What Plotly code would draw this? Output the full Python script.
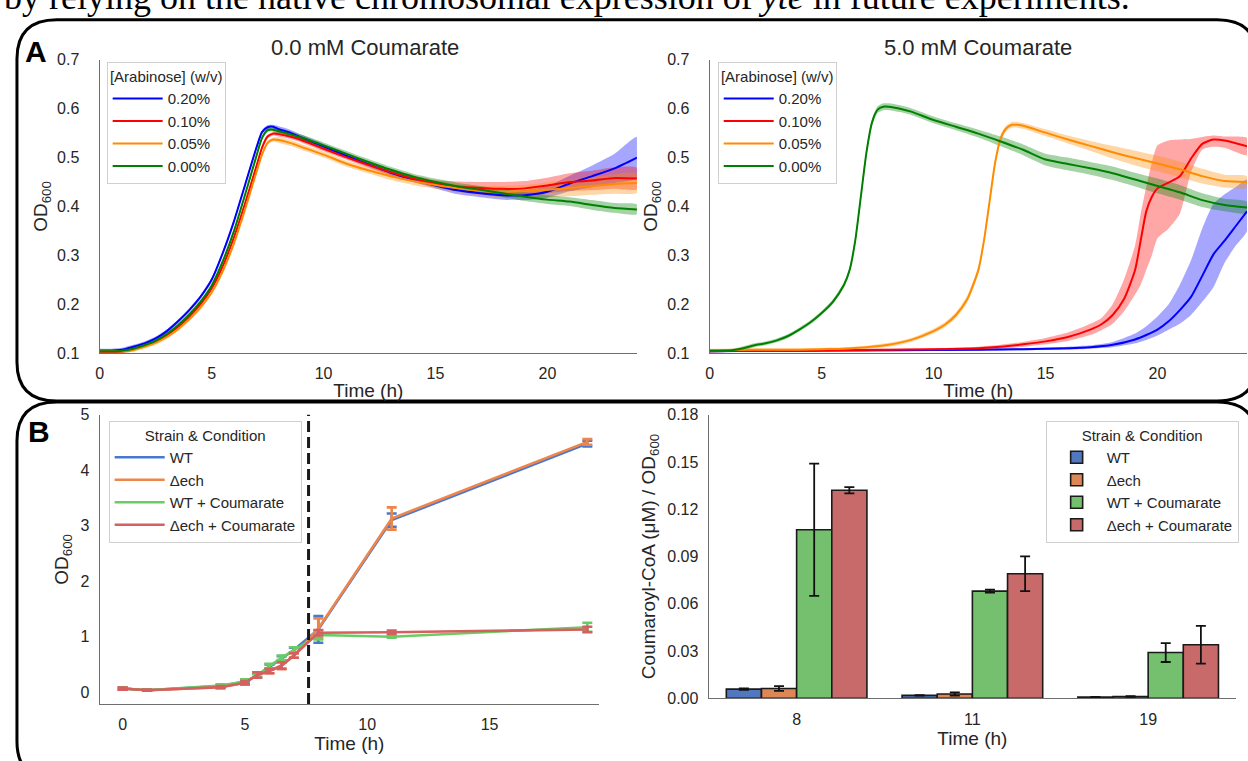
import plotly.graph_objects as go

W, H = 1248, 761

# ---------------- Panel A data (OD600 time courses) ----------------
ARAB_LABELS = ["0.20%", "0.10%", "0.05%", "0.00%"]
ARAB_COLORS = ["#0000ff", "#ff0000", "#ff8c00", "#008000"]
ARAB_FILLS = ["rgba(0,0,255,0.35)", "rgba(255,0,0,0.35)", "rgba(255,140,0,0.35)", "rgba(0,128,0,0.35)"]

# 0.0 mM coumarate
T_A0 = [0, 0.5, 1, 1.5, 2, 2.5, 3, 3.5, 4, 4.5, 5, 5.5, 6, 6.5, 7, 7.25, 7.5, 7.75, 8, 8.5, 9,
        10, 11, 12, 13, 14, 15, 16, 17, 18, 19, 20, 21, 22, 23, 24]
A0_ara020 = [0.105, 0.105, 0.107, 0.113, 0.120, 0.130, 0.145, 0.165, 0.188, 0.215, 0.250, 0.305, 0.370,
             0.445, 0.520, 0.552, 0.562, 0.563, 0.558, 0.551, 0.541, 0.523, 0.504, 0.486, 0.469, 0.455,
             0.443, 0.433, 0.427, 0.423, 0.423, 0.430, 0.447, 0.462, 0.478, 0.500]
A0_ara020_sd = [0.004] * 18 + [0.006, 0.006, 0.006, 0.005, 0.005, 0.005, 0.005, 0.005,
                               0.006, 0.008, 0.008, 0.009, 0.010, 0.012, 0.016, 0.022, 0.030, 0.042]
A0_ara010 = [0.103, 0.103, 0.104, 0.108, 0.115, 0.124, 0.137, 0.154, 0.175, 0.200, 0.232, 0.278, 0.337,
             0.407, 0.482, 0.520, 0.543, 0.549, 0.548, 0.543, 0.536, 0.518, 0.501, 0.485, 0.470, 0.457,
             0.447, 0.441, 0.438, 0.436, 0.437, 0.443, 0.450, 0.453, 0.458, 0.457]
A0_ara010_sd = [0.004] * 18 + [0.005, 0.005, 0.005, 0.005, 0.005, 0.006, 0.007, 0.007,
                               0.007, 0.010, 0.012, 0.014, 0.015, 0.016, 0.018, 0.020, 0.022, 0.022]
A0_ara005 = [0.104, 0.104, 0.104, 0.107, 0.113, 0.121, 0.133, 0.149, 0.169, 0.193, 0.224, 0.268, 0.325,
             0.395, 0.470, 0.506, 0.530, 0.537, 0.536, 0.530, 0.522, 0.506, 0.488, 0.474, 0.462, 0.452,
             0.444, 0.437, 0.432, 0.430, 0.431, 0.434, 0.438, 0.442, 0.446, 0.448]
A0_ara005_sd = [0.004] * 18 + [0.006, 0.006, 0.006, 0.006, 0.006, 0.006, 0.008, 0.008,
                               0.008, 0.008, 0.010, 0.012, 0.013, 0.015, 0.017, 0.018, 0.020, 0.020]
A0_ara000 = [0.104, 0.104, 0.105, 0.109, 0.116, 0.125, 0.139, 0.157, 0.179, 0.205, 0.238, 0.288, 0.350,
             0.425, 0.503, 0.540, 0.556, 0.557, 0.554, 0.548, 0.541, 0.525, 0.508, 0.491, 0.475, 0.461,
             0.450, 0.441, 0.434, 0.427, 0.420, 0.414, 0.410, 0.403, 0.397, 0.394]
A0_ara000_sd = [0.004] * 18 + [0.006, 0.006, 0.006, 0.006, 0.006, 0.006, 0.006, 0.006,
                               0.007, 0.007, 0.008, 0.008, 0.009, 0.009, 0.009, 0.010, 0.010, 0.010]

# 5.0 mM coumarate
T_A5_ara000 = [0, 1, 1.5, 2, 2.5, 3, 3.5, 4, 4.5, 5, 5.5, 6, 6.25, 6.5, 6.75, 7, 7.25, 7.5, 7.75, 8, 8.5,
               9, 10, 11, 12, 13, 14, 15, 16, 17, 18, 19, 20, 21, 22, 23, 24]
A5_ara000 = [0.105, 0.106, 0.110, 0.116, 0.120, 0.126, 0.135, 0.148, 0.163, 0.182, 0.205, 0.240, 0.270,
             0.330, 0.420, 0.510, 0.572, 0.598, 0.604, 0.604, 0.600, 0.594, 0.577, 0.563, 0.549, 0.533,
             0.516, 0.496, 0.487, 0.478, 0.468, 0.455, 0.442, 0.429, 0.413, 0.403, 0.398]
A5_ara000_sd = [0.003, 0.003, 0.004, 0.004, 0.004, 0.004, 0.004, 0.004, 0.004, 0.004, 0.005, 0.005, 0.006,
                0.007, 0.008, 0.008, 0.007, 0.007, 0.007, 0.007, 0.007, 0.007, 0.007, 0.007, 0.008, 0.010,
                0.011, 0.012, 0.013, 0.013, 0.014, 0.014, 0.015, 0.015, 0.014, 0.013, 0.012]

T_A5_ara005 = [0, 2, 4, 5, 6, 7, 8, 9, 10, 10.5, 11, 11.5, 12, 12.25, 12.5, 12.75, 13, 13.25, 13.5,
               13.75, 14, 15, 16, 17, 18, 19, 20, 21, 22, 23, 24]
A5_ara005 = [0.106, 0.107, 0.107, 0.108, 0.109, 0.112, 0.117, 0.127, 0.145, 0.158, 0.178, 0.210, 0.270,
             0.330, 0.410, 0.490, 0.540, 0.560, 0.567, 0.567, 0.565, 0.551, 0.537, 0.524, 0.511, 0.499,
             0.488, 0.476, 0.462, 0.452, 0.450]
A5_ara005_sd = [0.003, 0.003, 0.003, 0.003, 0.003, 0.003, 0.004, 0.004, 0.005, 0.005, 0.006, 0.007, 0.008,
                0.008, 0.008, 0.008, 0.007, 0.006, 0.006, 0.006, 0.006, 0.007, 0.008, 0.010, 0.013, 0.015,
                0.016, 0.016, 0.015, 0.013, 0.012]

T_A5_ara010 = [0, 4, 8, 10, 12, 13, 14, 15, 16, 17, 17.5, 18, 18.5, 19, 19.25, 19.5, 19.75, 20, 20.5,
               21, 21.5, 22, 22.5, 23, 24]
A5_ara010 = [0.104, 0.106, 0.107, 0.108, 0.110, 0.113, 0.118, 0.124, 0.133, 0.148, 0.159, 0.178, 0.210,
             0.270, 0.330, 0.390, 0.420, 0.437, 0.449, 0.462, 0.498, 0.528, 0.537, 0.535, 0.523]
A5_ara010_hi = [0.106, 0.108, 0.109, 0.110, 0.113, 0.117, 0.123, 0.131, 0.142, 0.160, 0.172, 0.200, 0.250,
                0.320, 0.385, 0.440, 0.490, 0.525, 0.535, 0.537, 0.538, 0.542, 0.545, 0.543, 0.540]
A5_ara010_lo = [0.102, 0.104, 0.105, 0.106, 0.107, 0.109, 0.113, 0.118, 0.125, 0.137, 0.147, 0.160, 0.185,
                0.220, 0.240, 0.270, 0.300, 0.335, 0.355, 0.385, 0.470, 0.516, 0.522, 0.520, 0.505]

T_A5_ara020 = [0, 4, 8, 12, 14, 16, 17, 18, 19, 19.5, 20, 20.5, 21, 21.5, 22, 22.5, 23, 23.5, 24]
A5_ara020 = [0.104, 0.105, 0.106, 0.107, 0.108, 0.110, 0.112, 0.117, 0.128, 0.137, 0.148, 0.165, 0.188,
             0.215, 0.258, 0.302, 0.330, 0.360, 0.390]
A5_ara020_hi = [0.106, 0.107, 0.108, 0.109, 0.110, 0.113, 0.116, 0.123, 0.140, 0.155, 0.175, 0.200, 0.240,
                0.290, 0.355, 0.405, 0.425, 0.440, 0.455]
A5_ara020_lo = [0.102, 0.103, 0.104, 0.105, 0.106, 0.107, 0.109, 0.112, 0.120, 0.127, 0.136, 0.148, 0.160,
                0.178, 0.205, 0.235, 0.285, 0.320, 0.350]

# ---------------- Panel B data ----------------
STRAINS = ["WT", "Δech", "WT + Coumarate", "Δech + Coumarate"]
LINE_COLORS = ["#4878d0", "#ee854a", "#6acc64", "#d65f5f"]
BAR_COLORS = ["#5177be", "#dd8656", "#74c06f", "#c96a6a"]

T_B = [0, 1, 4, 5, 5.5, 6, 6.5, 7, 8, 11, 19]
OD_WT = [0.065, 0.035, 0.11, 0.19, 0.30, 0.46, 0.61, 0.76, 1.13, 3.10, 4.48]
OD_WT_err = [0.02, 0.01, 0.02, 0.03, 0.03, 0.04, 0.04, 0.04, 0.24, 0.12, 0.05]
OD_ech = [0.065, 0.035, 0.09, 0.17, 0.31, 0.38, 0.48, 0.66, 1.15, 3.13, 4.51]
OD_ech_err = [0.02, 0.01, 0.02, 0.03, 0.05, 0.04, 0.06, 0.04, 0.18, 0.20, 0.05]
OD_WT_C = [0.065, 0.035, 0.12, 0.19, 0.30, 0.47, 0.62, 0.76, 1.03, 1.00, 1.17]
OD_WT_C_err = [0.02, 0.01, 0.02, 0.04, 0.03, 0.04, 0.04, 0.05, 0.08, 0.02, 0.08]
OD_ech_C = [0.065, 0.035, 0.09, 0.17, 0.31, 0.38, 0.48, 0.66, 1.07, 1.08, 1.13]
OD_ech_C_err = [0.02, 0.01, 0.02, 0.03, 0.05, 0.04, 0.06, 0.04, 0.05, 0.03, 0.05]
COUMARATE_ADDED_H = 7.6

BAR_TIMES = ["8", "11", "19"]
COA_WT = [0.0058, 0.0018, 0.0008]
COA_WT_err = [0.0005, 0.0002, 0.0001]
COA_ech = [0.0062, 0.0027, 0.0011]
COA_ech_err = [0.0015, 0.0010, 0.0002]
COA_WT_C = [0.107, 0.068, 0.029]
COA_WT_C_err = [0.042, 0.001, 0.006]
COA_ech_C = [0.132, 0.079, 0.034]
COA_ech_C_err = [0.002, 0.011, 0.012]

FONT = "Liberation Sans, Arial, sans-serif"
TXT = "#262626"


def px(x):
    return x / W


def py(y):
    return 1 - y / H


fig = go.Figure()


def band(t, lo, hi, fill, xa, ya):
    fig.add_trace(go.Scatter(x=list(t) + list(t)[::-1], y=list(hi) + list(lo)[::-1], fill="toself",
                             fillcolor=fill, line=dict(width=0, shape="spline", smoothing=0.6),
                             mode="lines", hoverinfo="skip", showlegend=False, xaxis=xa, yaxis=ya))


# Panel A left
A0_sets = [(A0_ara020, A0_ara020_sd), (A0_ara010, A0_ara010_sd), (A0_ara005, A0_ara005_sd),
           (A0_ara000, A0_ara000_sd)]
for i, (v, sd) in enumerate(A0_sets):
    band(T_A0, [a - b for a, b in zip(v, sd)], [a + b for a, b in zip(v, sd)], ARAB_FILLS[i], "x", "y")
for i, (v, sd) in enumerate(A0_sets):
    fig.add_trace(go.Scatter(x=T_A0, y=v, mode="lines", name=ARAB_LABELS[i],
                             line=dict(color=ARAB_COLORS[i], width=2, shape="spline", smoothing=0.6),
                             legend="legend", xaxis="x", yaxis="y"))

# Panel A right
A5_sets = [
    (T_A5_ara020, A5_ara020, A5_ara020_lo, A5_ara020_hi),
    (T_A5_ara010, A5_ara010, A5_ara010_lo, A5_ara010_hi),
    (T_A5_ara005, A5_ara005, [a - b for a, b in zip(A5_ara005, A5_ara005_sd)],
     [a + b for a, b in zip(A5_ara005, A5_ara005_sd)]),
    (T_A5_ara000, A5_ara000, [a - b for a, b in zip(A5_ara000, A5_ara000_sd)],
     [a + b for a, b in zip(A5_ara000, A5_ara000_sd)]),
]
for i, (t, v, lo, hi) in enumerate(A5_sets):
    band(t, lo, hi, ARAB_FILLS[i], "x2", "y2")
for i, (t, v, lo, hi) in enumerate(A5_sets):
    fig.add_trace(go.Scatter(x=t, y=v, mode="lines", name=ARAB_LABELS[i],
                             line=dict(color=ARAB_COLORS[i], width=2, shape="spline", smoothing=0.6),
                             legend="legend2", xaxis="x2", yaxis="y2"))

# Panel B left
B_sets = [(OD_WT, OD_WT_err), (OD_ech, OD_ech_err), (OD_WT_C, OD_WT_C_err), (OD_ech_C, OD_ech_C_err)]
for i, (v, e) in enumerate(B_sets):
    fig.add_trace(go.Scatter(x=T_B, y=v, mode="lines", name=STRAINS[i],
                             line=dict(color=LINE_COLORS[i], width=2.6),
                             error_y=dict(type="data", array=e, color=LINE_COLORS[i], thickness=2.6, width=5),
                             legend="legend3", xaxis="x3", yaxis="y3"))

# Panel B right
C_sets = [(COA_WT, COA_WT_err), (COA_ech, COA_ech_err), (COA_WT_C, COA_WT_C_err), (COA_ech_C, COA_ech_C_err)]
for i, (v, e) in enumerate(C_sets):
    fig.add_trace(go.Bar(x=BAR_TIMES, y=v, name=STRAINS[i],
                         marker=dict(color=BAR_COLORS[i], line=dict(color="#1a1a1a", width=1.6)),
                         error_y=dict(type="data", array=e, color="#111111", thickness=1.8, width=5),
                         legend="legend4", xaxis="x4", yaxis="y4"))


def axis_style(ticklen=6):
    return dict(showgrid=False, zeroline=False, showline=True, linecolor="#6e6e6e", linewidth=1.3,
                ticks="outside", ticklen=ticklen, tickcolor="rgba(0,0,0,0)",
                tickfont=dict(family=FONT, size=16, color=TXT),
                title_font=dict(family=FONT, size=19, color=TXT))


fig.update_layout(
    width=W, height=H, margin=dict(l=0, r=0, t=0, b=0, pad=0), autosize=False,
    paper_bgcolor="white", plot_bgcolor="white",
    font=dict(family=FONT, color=TXT),
    barmode="group", bargap=0.2, bargroupgap=0,
    xaxis=dict(domain=[px(96), px(635)], range=[0, 24], anchor="y", tickvals=[0, 5, 10, 15, 20],
               title=dict(text="Time (h)", standoff=2), **axis_style(6)),
    yaxis=dict(domain=[py(353), py(53)], range=[0.1, 0.7], anchor="x", tickvals=[0.1, 0.2, 0.3, 0.4, 0.5, 0.6, 0.7],
               tickformat=".1f", title=dict(text="OD<sub>600</sub>", standoff=4), **axis_style(16)),
    xaxis2=dict(domain=[px(708), px(1247)], range=[0, 24], anchor="y2", tickvals=[0, 5, 10, 15, 20],
                title=dict(text="Time (h)", standoff=2), **axis_style(6)),
    yaxis2=dict(domain=[py(353), py(53)], range=[0.1, 0.7], anchor="x2", tickvals=[0.1, 0.2, 0.3, 0.4, 0.5, 0.6, 0.7],
                tickformat=".1f", title=dict(text="OD<sub>600</sub>", standoff=4), **axis_style(16)),
    xaxis3=dict(domain=[px(96), px(597)], range=[-0.94, 19.48], anchor="y3", tickvals=[0, 5, 10, 15],
                title=dict(text="Time (h)", standoff=2), **axis_style(6)),
    yaxis3=dict(domain=[py(712), py(416)], range=[-0.215, 5.0], anchor="x3", tickvals=[0, 1, 2, 3, 4, 5],
                title=dict(text="OD<sub>600</sub>", standoff=6), **axis_style(6)),
    xaxis4=dict(domain=[px(707), px(1236)], range=[-0.5, 2.5], anchor="y4", type="category",
                title=dict(text="Time (h)", standoff=2), **axis_style(6)),
    yaxis4=dict(domain=[py(706), py(416)], range=[0, 0.18], anchor="x4",
                tickvals=[0, 0.03, 0.06, 0.09, 0.12, 0.15, 0.18], tickformat=".2f",
                title=dict(text="Coumaroyl-CoA (μM) / OD<sub>600</sub>", standoff=6), **axis_style(6)),
)

leg_common = dict(bgcolor="white", bordercolor="#d0d0d0", borderwidth=1, xanchor="left", yanchor="top",
                  font=dict(family=FONT, size=15, color=TXT), itemwidth=50, tracegroupgap=0)
title_font = dict(family=FONT, size=15, color=TXT)
fig.update_layout(
    legend=dict(x=px(103), y=py(55), title=dict(text="[Arabinose] (w/v)", side="top center", font=title_font),
                **leg_common),
    legend2=dict(x=px(716), y=py(55), title=dict(text="[Arabinose] (w/v)", side="top center", font=title_font),
                 **leg_common),
    legend3=dict(x=px(105), y=py(422), title=dict(text="Strain & Condition", side="top center", font=title_font),
                 **leg_common),
    legend4=dict(x=px(1045), y=py(422), title=dict(text="Strain & Condition", side="top center", font=title_font),
                 **leg_common),
)

# dashed line marking coumarate addition
fig.add_shape(type="line", xref="x3", yref="y3 domain", x0=COUMARATE_ADDED_H, x1=COUMARATE_ADDED_H,
              y0=0, y1=1, line=dict(color="#1a1a1a", width=3, dash="11px,5px"))


def rounded_box(x0, y0, x1, y1, r):
    rx, ry = r / W, r / H
    X0, X1, Y0, Y1 = px(x0), px(x1), py(y0), py(y1)
    path = (f"M {X0+rx},{Y0} L {X1-rx},{Y0} Q {X1},{Y0} {X1},{Y0-ry} L {X1},{Y1+ry} "
            f"Q {X1},{Y1} {X1-rx},{Y1} L {X0+rx},{Y1} Q {X0},{Y1} {X0},{Y1+ry} L {X0},{Y0-ry} "
            f"Q {X0},{Y0} {X0+rx},{Y0} Z")
    fig.add_shape(type="path", path=path, xref="paper", yref="paper",
                  line=dict(color="black", width=3), layer="below")


rounded_box(13, 12, 1257, 402, 40)
rounded_box(13, 403, 1257, 790, 40)

for text, xc in [("0.0 mM Coumarate", 362), ("5.0 mM Coumarate", 977)]:
    fig.add_annotation(text=text, x=px(xc), y=py(40), xref="paper", yref="paper", showarrow=False,
                       xanchor="center", yanchor="middle", font=dict(family=FONT, size=22, color=TXT))
fig.add_annotation(text="<b>A</b>", x=px(32), y=py(44), xref="paper", yref="paper", showarrow=False,
                   xanchor="center", yanchor="middle", font=dict(family=FONT, size=30, color="black"))
fig.add_annotation(text="<b>B</b>", x=px(35), y=py(433), xref="paper", yref="paper", showarrow=False,
                   xanchor="center", yanchor="middle", font=dict(family=FONT, size=30, color="black"))
fig.add_annotation(text="by relying on the native chromosomal expression of <i>yte</i> in future experiments.",
                   x=px(-2), y=py(11), xref="paper", yref="paper", showarrow=False, xanchor="left",
                   yanchor="bottom", font=dict(family="Liberation Serif, Times New Roman, serif", size=36,
                                               color="black"))

fig.write_html("out.html", config={"displayModeBar": False},
               post_script="document.body.style.margin='0px';")
